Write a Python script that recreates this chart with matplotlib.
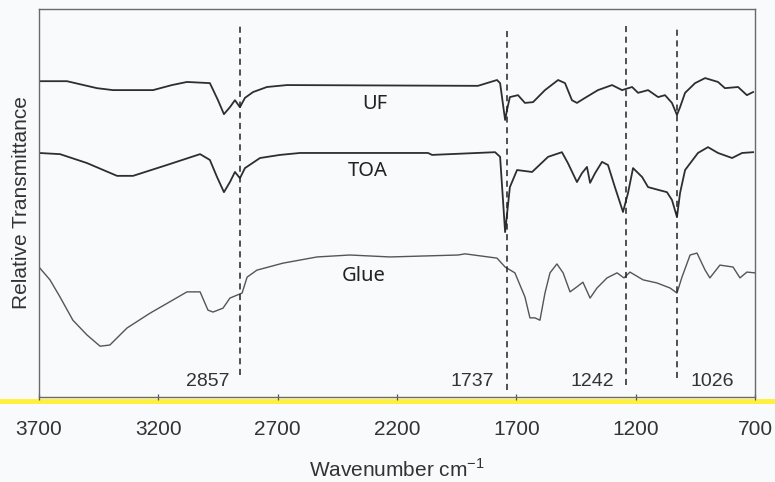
import numpy as np
import matplotlib
matplotlib.use("Agg")
import matplotlib.pyplot as plt
from matplotlib.lines import Line2D

# FTIR spectra (wavenumber cm-1, relative transmittance in arbitrary units)
uf_wn = [3700, 3583, 3457, 3390, 3222, 3143, 3080, 2984, 2950, 2925, 2900, 2879, 2858,
         2837, 2803, 2745, 2661, 1861, 1781, 1768, 1747, 1739, 1727, 1693, 1664, 1630,
         1580, 1525, 1496, 1467, 1446, 1412, 1358, 1299, 1257, 1215, 1190, 1148, 1106,
         1077, 1048, 1027, 1014, 993, 951, 909, 855, 826, 771, 734, 708]
uf_t = [81.4, 81.4, 79.6, 79.1, 79.1, 80.4, 81.2, 80.9, 76.5, 72.9, 74.7, 76.5, 74.7,
        77.1, 78.6, 79.9, 80.4, 80.2, 81.7, 80.9, 71.4, 74.0, 77.3, 77.8, 75.8, 76.0,
        79.1, 81.7, 80.9, 76.5, 75.8, 77.1, 79.1, 80.4, 79.1, 79.9, 78.4, 79.1, 77.3,
        77.8, 75.8, 72.7, 74.7, 78.4, 80.9, 82.2, 81.2, 79.6, 79.9, 77.8, 78.6]

toa_wn = [3700, 3612, 3499, 3373, 3306, 3164, 3025, 2984, 2954, 2925, 2900, 2879, 2858,
          2837, 2774, 2690, 2606, 2070, 2053, 1789, 1768, 1747, 1727, 1697, 1634, 1567,
          1509, 1484, 1446, 1425, 1404, 1391, 1370, 1341, 1316, 1287, 1253, 1232, 1211,
          1173, 1148, 1106, 1069, 1048, 1027, 1014, 993, 939, 897, 855, 796, 754, 708]
toa_t = [62.9, 62.6, 60.3, 57.0, 57.0, 59.8, 62.6, 61.1, 56.7, 52.8, 55.4, 58.0, 56.4,
         59.0, 61.6, 62.4, 62.9, 62.9, 62.4, 63.1, 61.9, 42.5, 54.1, 58.5, 58.0, 61.9,
         63.1, 60.3, 55.4, 57.7, 59.3, 55.2, 57.7, 60.6, 59.8, 54.1, 47.7, 52.6, 59.0,
         56.7, 54.1, 53.4, 52.8, 50.8, 46.4, 52.6, 58.5, 62.9, 64.4, 62.9, 61.6, 62.9, 63.1]

glue_wn = [3700, 3654, 3612, 3558, 3499, 3444, 3403, 3331, 3235, 3139, 3080, 3025, 2992,
           2971, 2929, 2900, 2849, 2828, 2787, 2678, 2535, 2397, 2229, 1944, 1915, 1781,
           1747, 1706, 1664, 1643, 1622, 1601, 1580, 1559, 1530, 1504, 1475, 1446, 1421,
           1391, 1362, 1320, 1278, 1249, 1224, 1169, 1111, 1056, 1027, 1006, 972, 943,
           909, 889, 847, 792, 763, 734, 700]
glue_t = [33.5, 30.2, 25.8, 19.8, 16.0, 13.1, 13.4, 17.8, 21.6, 25.0, 27.1, 27.1, 22.4,
          21.9, 22.9, 25.5, 26.8, 30.9, 32.7, 34.5, 36.1, 36.6, 36.1, 36.6, 36.9, 35.8,
          33.5, 32.0, 25.8, 20.4, 20.4, 19.8, 26.8, 32.0, 34.3, 32.0, 27.1, 28.4, 29.6,
          25.5, 28.1, 30.7, 32.0, 30.7, 32.2, 30.2, 29.4, 28.1, 26.8, 30.9, 36.6, 37.1,
          32.7, 30.7, 34.0, 33.5, 30.7, 32.2, 32.0]

series_names = ["UF", "TOA", "Glue"]
label_pos = [(2292, 75.6), (2321, 58.2), (2338, 31.2)]

# marked bands
peaks = [2857, 1737, 1242, 1026]
peak_top = [96.4, 94.8, 95.6, 94.8]
peak_bottom = [5.7, 1.8, 3.1, 4.9]
peak_label_x = [2992, 1886, 1383, 880]

xticks = [3700, 3200, 2700, 2200, 1700, 1200, 700]

bg = "#f8fafc"
fig = plt.figure(figsize=(7.75, 4.82), dpi=100, facecolor=bg)
ax = fig.add_axes([0.0503, 0.1763, 0.9239, 0.805], facecolor=bg)

ax.plot(uf_wn, uf_t, color="#2e2e2e", lw=1.3)
ax.plot(toa_wn, toa_t, color="#2e2e2e", lw=1.3)
ax.plot(glue_wn, glue_t, color="#555555", lw=1.0)

for name, (x, y) in zip(series_names, label_pos):
    ax.text(x, y, name, ha="center", va="center", fontsize=14.5,
            family="Noto Sans", color="#222222")

for p, top, bot, lx in zip(peaks, peak_top, peak_bottom, peak_label_x):
    ax.plot([p, p], [bot, top], color="#222222", lw=1.1, ls=(0, (4, 3)))
    ax.text(lx, 3.9, str(p), ha="center", va="center", fontsize=14,
            family="Liberation Sans", color="#333333")

ax.set_xlim(3700, 700)
ax.set_ylim(0, 100)
ax.set_xticks(xticks)
ax.set_xticklabels([str(t) for t in xticks], family="Liberation Sans", fontsize=15,
                   color="#333333")
ax.set_yticks([])
ax.tick_params(axis="x", direction="inout", length=5, width=0.9, pad=14, colors="#555555",
               labelcolor="#333333")
for side in ["left", "right", "top", "bottom"]:
    ax.spines[side].set_color("#6a6a6a")
    ax.spines[side].set_linewidth(1.0)

ax.set_xlabel(r"Wavenumber cm$^{\mathregular{-1}}$", family="Liberation Sans",
              fontsize=15, color="#333333", labelpad=14)
ax.set_ylabel("Relative Transmittance", family="Liberation Sans", fontsize=15,
              color="#333333", labelpad=6)

# yellow highlighter stripe from the scan
fig.add_artist(Line2D([0, 1], [0.168, 0.168], transform=fig.transFigure,
                      color="#fff03a", lw=3.5, zorder=0))

fig.savefig("out.png", dpi=100, facecolor=bg)
